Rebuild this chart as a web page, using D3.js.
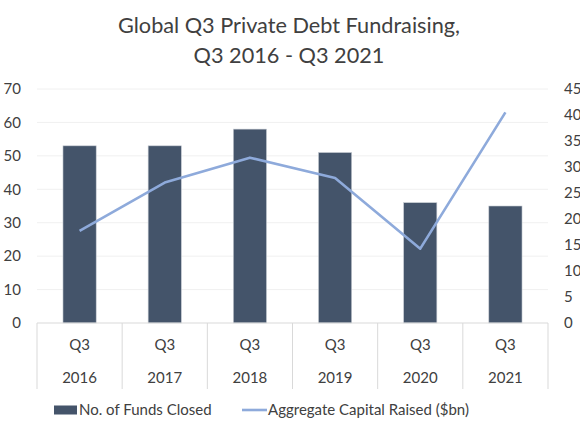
<!DOCTYPE html>
<html>
<head>
<meta charset="utf-8">
<script src="https://cdn.jsdelivr.net/npm/d3@7"></script>
<style>
  body { margin: 0; background: #fff; }
  text { font-family: Lato, "Noto Sans", sans-serif; fill: #404040; }
</style>
</head>
<body>
<div id="chart"></div>
<script>
// data
var quarters = ["Q3", "Q3", "Q3", "Q3", "Q3", "Q3"];
var years = ["2016", "2017", "2018", "2019", "2020", "2021"];
var fundsClosed = [53, 53, 58, 51, 36, 35];
var capitalRaised = [17.7, 27.0, 31.8, 27.9, 14.3, 40.5];
var leftTicks = [0, 10, 20, 30, 40, 50, 60, 70];
var rightTicks = [0, 5, 10, 15, 20, 25, 30, 35, 40, 45];

var W = 580, H = 435;
var margin = {top: 89, right: 32, bottom: 112, left: 37},
    width = W - margin.left - margin.right,
    height = H - margin.top - margin.bottom;

var svg = d3.select("#chart")
  .append("svg")
    .attr("width", W)
    .attr("height", H);

// title
svg.append("text")
  .attr("x", 289).attr("y", 33)
  .attr("text-anchor", "middle")
  .style("font-size", "21.7px")
  .text("Global Q3 Private Debt Fundraising,");
svg.append("text")
  .attr("x", 289).attr("y", 63)
  .attr("text-anchor", "middle")
  .style("font-size", "21.7px")
  .text("Q3 2016 - Q3 2021");

var g = svg.append("g")
  .attr("transform", "translate(" + margin.left + "," + margin.top + ")");

var x = d3.scaleBand()
  .domain(years)
  .range([0, width])
  .paddingInner(0.61)
  .paddingOuter(0.305);

var xCat = d3.scaleBand().domain(years).range([0, width]);

var yL = d3.scaleLinear().domain([0, 70]).range([height, 0]);
var yR = d3.scaleLinear().domain([0, 45]).range([height, 0]);

// gridlines
g.selectAll("line.grid")
  .data(leftTicks.slice(1))
  .enter().append("line")
    .attr("class", "grid")
    .attr("x1", 0).attr("x2", width)
    .attr("y1", function(d) { return yL(d); })
    .attr("y2", function(d) { return yL(d); })
    .attr("stroke", "#f0f0f0")
    .attr("stroke-width", 1);

// left axis labels
g.selectAll("text.yl")
  .data(leftTicks)
  .enter().append("text")
    .attr("class", "yl")
    .attr("x", -16)
    .attr("y", function(d) { return yL(d); })
    .attr("dy", "0.35em")
    .attr("text-anchor", "end")
    .style("font-size", "15px")
    .text(function(d) { return d; });

// right axis labels
g.selectAll("text.yr")
  .data(rightTicks)
  .enter().append("text")
    .attr("class", "yr")
    .attr("x", width + 16)
    .attr("y", function(d) { return yR(d); })
    .attr("dy", "0.35em")
    .attr("text-anchor", "start")
    .style("font-size", "15px")
    .text(function(d) { return d; });

// bars
g.selectAll("rect.bar")
  .data(fundsClosed)
  .enter().append("rect")
    .attr("class", "bar")
    .attr("x", function(d, i) { return x(years[i]); })
    .attr("y", function(d) { return yL(d); })
    .attr("width", x.bandwidth())
    .attr("height", function(d) { return height - yL(d); })
    .attr("fill", "#44546a")
    .attr("stroke", "#c8cdd4")
    .attr("stroke-width", 0.6);

// line
var line = d3.line()
  .x(function(d, i) { return xCat(years[i]) + xCat.bandwidth() / 2; })
  .y(function(d) { return yR(d); });

g.append("path")
  .datum(capitalRaised)
  .attr("d", line)
  .attr("fill", "none")
  .attr("stroke", "#8eaadb")
  .attr("stroke-width", 2.6)
  .attr("stroke-linejoin", "round");

// category axis (boxes)
g.append("line")
  .attr("x1", 0).attr("x2", width)
  .attr("y1", height).attr("y2", height)
  .attr("stroke", "#d9d9d9");

var bounds = years.map(function(d) { return xCat(d); }).concat([width]);
g.selectAll("line.sep")
  .data(bounds)
  .enter().append("line")
    .attr("class", "sep")
    .attr("x1", function(d) { return d; })
    .attr("x2", function(d) { return d; })
    .attr("y1", height)
    .attr("y2", height + 66)
    .attr("stroke", "#d9d9d9");

g.selectAll("text.q")
  .data(quarters)
  .enter().append("text")
    .attr("class", "q")
    .attr("x", function(d, i) { return xCat(years[i]) + xCat.bandwidth() / 2; })
    .attr("y", height + 22)
    .attr("dy", "0.35em")
    .attr("text-anchor", "middle")
    .style("font-size", "15px")
    .text(function(d) { return d; });

g.selectAll("text.yr-lab")
  .data(years)
  .enter().append("text")
    .attr("class", "yr-lab")
    .attr("x", function(d) { return xCat(d) + xCat.bandwidth() / 2; })
    .attr("y", height + 55)
    .attr("dy", "0.35em")
    .attr("text-anchor", "middle")
    .style("font-size", "15px")
    .text(function(d) { return d; });

// legend
var leg = svg.append("g").attr("transform", "translate(0,410)");
leg.append("rect")
  .attr("x", 54).attr("y", -4.5)
  .attr("width", 23).attr("height", 9)
  .attr("fill", "#44546a");
leg.append("text")
  .attr("x", 79).attr("y", 0).attr("dy", "0.35em")
  .style("font-size", "15px")
  .text("No. of Funds Closed");
leg.append("line")
  .attr("x1", 242).attr("x2", 267)
  .attr("y1", 0).attr("y2", 0)
  .attr("stroke", "#8eaadb")
  .attr("stroke-width", 2.6);
leg.append("text")
  .attr("x", 268).attr("y", 0).attr("dy", "0.35em")
  .style("font-size", "15px")
  .text("Aggregate Capital Raised ($bn)");
</script>
</body>
</html>
